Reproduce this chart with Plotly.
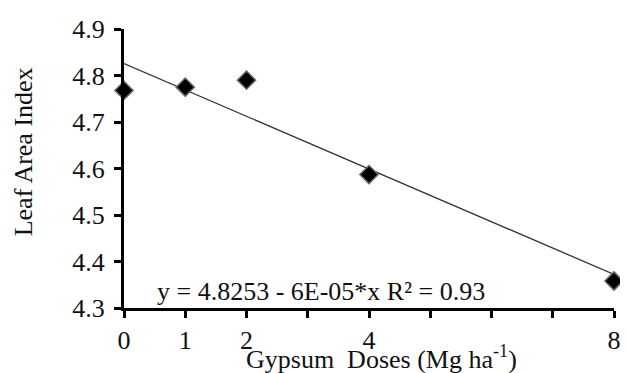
import numpy as np
import plotly.graph_objects as go

# Data
doses = [0, 1, 2, 4, 8]
lai = [4.768, 4.775, 4.790, 4.587, 4.358]
x_tickvals = [0, 1, 2, 3, 4, 5, 6, 7, 8]
x_ticktext = ["0", "1", "2", "", "4", "", "", "", "8"]
y_tickvals = [4.3, 4.4, 4.5, 4.6, 4.7, 4.8, 4.9]
equation_text = "y = 4.8253 - 6E-05*x R² = 0.93"

slope, intercept = np.polyfit(doses, lai, 1)
fit_x = [min(doses), max(doses)]
fit_y = [intercept + slope * v for v in fit_x]

FONT = "Liberation Serif"
FS = 26
TXT = "#111111"

fig = go.Figure()
fig.add_trace(go.Scatter(x=fit_x, y=fit_y, mode="lines",
                         line=dict(color="#333333", width=1.3),
                         hoverinfo="skip", showlegend=False))
fig.add_trace(go.Scatter(x=doses, y=lai, mode="markers",
                         marker=dict(symbol="diamond", size=14, color="black",
                                     line=dict(color="#666666", width=1.5)),
                         cliponaxis=False, showlegend=False))

# page body has an 8px default margin, so the figure is offset by 8px
fig.update_layout(
    width=620, height=365,
    margin=dict(l=116, r=7, t=9, b=65),
    paper_bgcolor="white", plot_bgcolor="white",
    font=dict(family=FONT, size=FS, color=TXT),
    showlegend=False,
    xaxis=dict(range=[0, 8], tickvals=x_tickvals, ticktext=x_ticktext,
               showline=True, linecolor="black", linewidth=3,
               ticks="outside", ticklen=7, tickwidth=3, tickcolor="black",
               showgrid=False, zeroline=False, ticklabelstandoff=0,
               ticklabeloverflow="allow",
               tickfont=dict(family=FONT, size=FS, color=TXT)),
    yaxis=dict(range=[4.3, 4.9], tickvals=y_tickvals, tickformat=".1f",
               showline=True, linecolor="black", linewidth=3,
               ticks="outside", ticklen=7, tickwidth=3, tickcolor="black",
               showgrid=False, zeroline=False, ticklabelstandoff=4,
               ticklabeloverflow="allow",
               tickfont=dict(family=FONT, size=FS, color=TXT)),
    annotations=[
        dict(text="Leaf Area Index", xref="paper", yref="paper",
             x=-0.205, y=0.56, xanchor="center", yanchor="middle",
             textangle=-90, showarrow=False,
             font=dict(family=FONT, size=FS, color=TXT)),
        dict(text="Gypsum&nbsp; Doses (Mg ha<sup>-1</sup>)", xref="paper", yref="paper",
             x=0.525, y=-0.176, xanchor="center", yanchor="middle",
             showarrow=False,
             font=dict(family=FONT, size=FS, color=TXT)),
        dict(text=equation_text, xref="x", yref="y",
             x=0.5, y=4.335, xanchor="left", yanchor="middle",
             showarrow=False,
             font=dict(family=FONT, size=FS, color=TXT)),
    ],
)

fig.write_html("out.html")
